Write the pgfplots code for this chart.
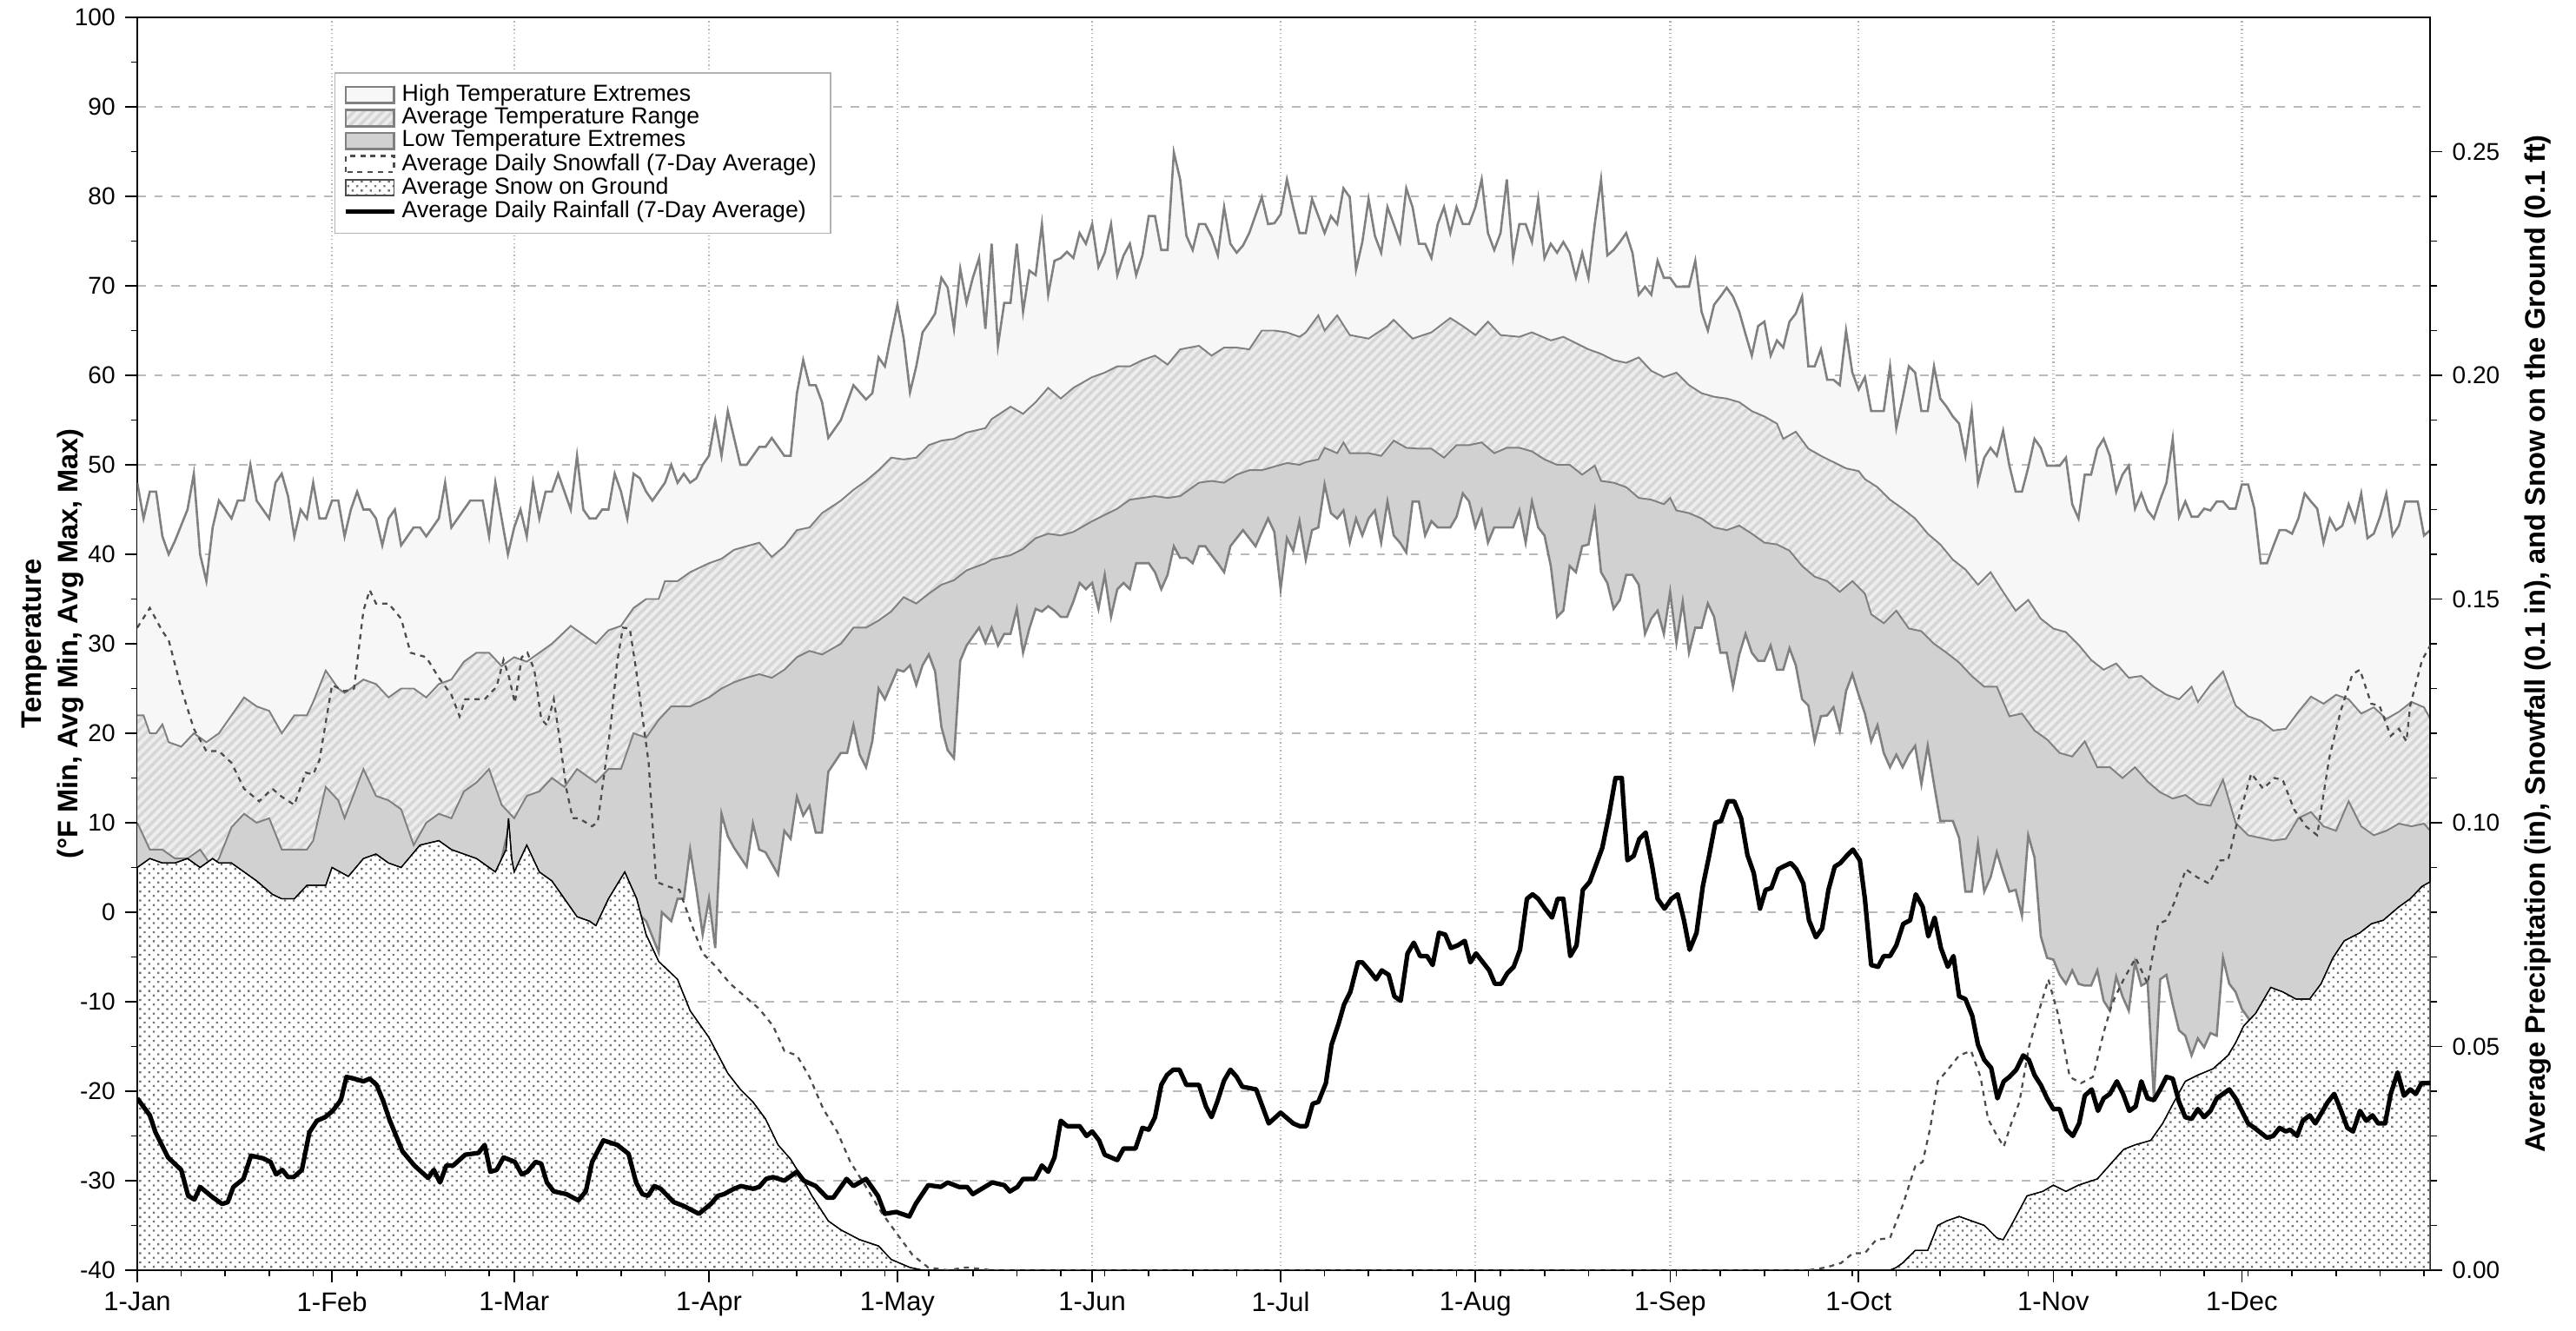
\documentclass[border=0pt]{standalone}
\usepackage{fontspec}
\setmainfont{Liberation Sans}
\usepackage{pgfplots}
\pgfplotsset{compat=1.18}
\usepgfplotslibrary{fillbetween}
\usetikzlibrary{patterns.meta}

\definecolor{lineg}{gray}{0.5}
\definecolor{hifill}{gray}{0.97}
\definecolor{rngfill}{gray}{0.93}
\definecolor{rngline}{gray}{0.84}
\definecolor{lofill}{gray}{0.82}
\definecolor{snowdot}{gray}{0.45}

\tikzset{
  hatch/.style={pattern={Lines[angle=45,distance=2.4pt,line width=1.1pt]},pattern color=rngline},
  snowdots/.style={pattern={Dots[distance=2.26pt,radius=0.5pt,angle=45]},pattern color=snowdot},
}

\begin{document}
\begin{tikzpicture}
% temperatures, left axis
\begin{axis}[name=main, set layers, scale only axis,
  width=28.48cm, height=15.56cm,
  xmin=0, xmax=365, ymin=-40, ymax=100,
  xtick={0,31,60,91,121,152,182,213,244,274,305,335},
  xticklabels={1-Jan,1-Feb,1-Mar,1-Apr,1-May,1-Jun,1-Jul,1-Aug,1-Sep,1-Oct,1-Nov,1-Dec},
  minor xtick={7,14,...,364},
  ytick={-40,-30,...,100}, minor y tick num=1,
  xtick pos=bottom, ytick pos=left, tick align=outside,
  major tick length=0.15cm, minor tick length=0.08cm,
  every tick/.style={black, line width=0.5pt},
  xmajorgrids, ymajorgrids,
  x grid style={densely dotted, gray!60, line width=0.7pt},
  y grid style={dashed, gray!55, line width=0.6pt},
  axis line style={line width=0.6pt},
  tick label style={font=\fontsize{8.6}{10}\selectfont},
  x tick label style={font=\fontsize{9.5}{10}\selectfont},
  /pgf/number format/assume math mode=true,
  ylabel={Temperature\\(°F Min, Avg Min, Avg Max, Max)},
  ylabel style={font=\bfseries\fontsize{10}{12.9}\selectfont, align=center,
    at={(axis description cs:-0.037,0.5)}, anchor=center},
]
\addplot[name path=H, lineg, line width=0.8pt] coordinates {
(0,48)(1,44)(2,47)(3,47)(4,42)(5,40)(6,41.5)(8,45)(9,49)(10,40)(11,37)(12,43)(13,46)(15,44)(16,46)(17,46)(18,50)(19,46)(21,44)(22,48)(23,49)(24,46.5)(25,42)(26,45)(27,44)(28,48)(29,44)(30,44)(31,46)(32,46)(33,42)(34,45)(35,47)(36,45)(37,45)(38,44)(39,41)(40,44)(41,45)(42,41)(43,42)(44,43)(45,43)(46,42)(47,43)(48,44)(49,48)(50,43)(51,44)(52,45)(53,46)(54,46)(55,46)(56,42)(57,48)(58,44)(59,40)(60,43)(61,45)(62,42)(63,48)(64,44)(65,47)(66,47)(67,49)(68,47)(69,45)(70,51)(71,45)(72,44)(73,44)(74,45)(75,45)(76,49)(77,47)(78,44)(79,49)(80,48.5)(81,47)(82,46)(83,47)(84,48)(85,50)(86,48)(87,49)(88,48)(89,48.5)(90,50)(91,51)(92,55)(93,51)(94,56)(95,53)(96,50)(97,50)(99,52)(100,52)(101,53)(103,51)(104,51)(105,58)(106,61.7)(107,58.9)(108,58.9)(109,57)(110,53)(112,55)(114,58.9)(116,57.3)(117,58)(118,62)(119,61)(120,64.5)(121,67.9)(122,64.1)(123,58.1)(124,61)(125,64.8)(126,65.8)(127,66.9)(128,70.9)(129,69.8)(130,65.2)(131,71.9)(132,68.1)(133,70.9)(134,73.1)(135,65.2)(136,74.7)(137,63.3)(138,68.1)(139,68.1)(140,74.7)(141,67.1)(142,71.7)(143,71.2)(144,76.9)(145,69)(146,72.8)(147,73.1)(148,73.8)(149,73.1)(150,75.9)(151,74.7)(152,76.9)(153,72.1)(154,73.7)(155,76.9)(156,71.2)(157,73.4)(158,74.7)(159,71.2)(160,73.4)(161,77.8)(162,77.8)(163,74)(164,74)(165,84.9)(166,81.9)(167,75.6)(168,74)(169,76.9)(170,76.9)(171,75.5)(172,73.4)(173,78.8)(174,74.7)(175,73.7)(176,74.5)(177,75.9)(179,79.9)(180,76.9)(181,77)(182,78)(183,81.9)(184,78.8)(185,75.9)(186,75.9)(187,79.7)(188,77.8)(189,75.9)(190,77.8)(191,76.9)(192,80.9)(193,79.9)(194,71.8)(195,74.9)(196,79.7)(197,75.6)(198,73.7)(199,78.8)(200,76.9)(201,74.9)(202,80.9)(203,78.8)(204,74.7)(205,74.7)(206,73.1)(207,76.9)(208,78.8)(209,75.9)(210,78.8)(211,76.9)(212,76.9)(213,78.8)(214,81.9)(215,75.9)(216,74)(217,75.9)(218,81.9)(219,73.1)(220,76.9)(221,76.9)(222,74.9)(223,79.7)(224,73.1)(225,74.7)(226,73.7)(227,74.9)(228,73.7)(229,70.9)(230,73.7)(231,70.9)(232,76.9)(233,81.9)(234,73.4)(235,74)(236,74.9)(237,75.9)(238,73.7)(239,69)(240,69.9)(241,69)(242,72.8)(243,70.9)(244,70.9)(245,69.9)(247,69.9)(248,72.8)(249,67.1)(250,65)(251,67.9)(252,68.8)(253,69.8)(254,68.8)(255,67.1)(256,64.6)(257,62.2)(258,65.5)(259,66)(260,62.2)(261,63.9)(262,63.1)(263,66)(264,66.9)(265,68.8)(266,61)(267,61)(268,62.9)(269,59.5)(270,59.5)(271,58.9)(272,65)(273,60.3)(274,58.4)(275,59.8)(276,56)(278,56)(279,61)(280,54.1)(281,57.4)(282,61)(283,60.3)(284,56)(285,56)(286,61)(287,57.4)(288,56.5)(289,55.4)(290,54.6)(291,51)(292,56)(293,48)(294,50.8)(295,51.9)(296,51)(297,53.8)(298,49.9)(299,47)(300,47)(301,49.7)(302,52.9)(303,51.9)(304,49.9)(305,49.9)(306,49.9)(307,50.8)(308,45.6)(309,44)(310,48.9)(311,48.9)(312,51.8)(313,52.9)(314,51)(315,47)(316,48.9)(317,49.9)(318,45.1)(319,46.8)(320,44.9)(321,44)(322,46.1)(323,48)(324,52.9)(325,44.2)(326,45.9)(327,44.2)(328,44.2)(329,45.1)(330,44.9)(331,45.9)(332,45.9)(333,45.1)(334,45.1)(335,47.8)(336,47.8)(337,45.1)(338,39)(339,39)(340,40.9)(341,42.7)(342,42.7)(343,42.3)(344,44)(345,46.8)(346,45.9)(347,45.1)(348,41.3)(349,44)(350,42.7)(351,43.2)(352,45.6)(353,43.7)(354,46.8)(355,41.8)(356,42.3)(357,44.2)(358,46.8)(359,42.1)(360,43.2)(361,45.9)(362,45.9)(363,45.9)(364,42.1)(365,42.7)};
\addplot[name path=AX, lineg, line width=0.6pt] coordinates {
(0,22)(1,22)(2,20)(3,20)(4,21)(5,19)(7,18.5)(9,20)(11,19)(13,20)(15,22)(17,24)(19,23)(21,22.5)(23,20)(25,22)(27,22)(28,23.5)(30,27)(32,25)(33,24.5)(36,26)(38,25.5)(40,24)(42,25)(44,25)(46,24)(48,25.5)(50,26)(52,28)(54,29)(56,29)(58,27.5)(60,28.5)(62,28)(64,29)(66,30)(69,32)(71,31)(73,30)(75,31.5)(77,32)(79,34)(81,35)(83,35)(84,37)(86,37)(88,38)(91,39)(93,39.5)(95,40.5)(97,40.9)(99,41.3)(101,39.7)(103,40.9)(105,42.7)(107,43)(109,44.6)(112,46)(114,47.2)(116,48.2)(118,49.4)(120,50.8)(122,50.6)(124,50.8)(126,52.2)(128,52.7)(130,52.9)(132,53.6)(135,54.1)(136,55.1)(139,56.5)(141,55.7)(143,57)(145,58.6)(147,57.4)(149,58.6)(152,59.8)(154,60.3)(156,61)(158,61)(160,61.7)(162,62.2)(164,61.2)(166,62.9)(169,63.3)(171,62.2)(173,63.1)(175,63.1)(177,62.9)(179,65)(181,65)(183,64.8)(185,64.3)(186,64.8)(188,66.7)(189,65)(191,66.7)(193,64.5)(196,64.1)(199,65.5)(200,66.2)(203,64.1)(206,64.8)(209,66.4)(211,65.5)(213,64.5)(215,66)(217,64.5)(220,64.3)(222,64.8)(225,63.9)(227,64.3)(229,63.6)(231,62.9)(233,62.4)(235,61.7)(237,61.4)(239,62)(241,60.5)(243,59.8)(245,60.3)(247,58.9)(249,58)(251,57.6)(253,57.4)(255,57)(257,56)(259,55.4)(261,54.6)(262,52.9)(264,53.7)(266,51.8)(268,51)(270,50.3)(272,49.6)(274,49.3)(275,48.4)(277,47.5)(279,46.1)(281,45.1)(283,44)(285,42.3)(287,41.1)(289,39.4)(291,38.3)(293,36.6)(295,38)(297,35.8)(299,33.7)(301,34.9)(303,32.8)(305,31.7)(307,31.3)(309,29.9)(311,28.2)(313,27.1)(315,27.8)(317,26.2)(319,26.4)(321,25.2)(323,24.3)(325,23.8)(327,25.2)(328,23.5)(330,25.4)(332,26.9)(334,23.1)(336,21.9)(338,21.4)(340,20.3)(342,20.5)(344,22.4)(346,24.1)(348,23.3)(350,24.3)(352,23.8)(354,22.2)(356,22.9)(358,21.6)(360,22.4)(362,23.5)(364,22.9)(365,21.6)};
\addplot[name path=AN, lineg, line width=0.6pt] coordinates {
(0,10)(1,8.5)(2,7)(4,7)(6,6)(8,6)(10,7)(12,5)(13,6)(15,9.5)(17,11)(19,10)(21,10.5)(23,7)(25,7)(27,7)(28,8)(30,14)(32,12.5)(33,10.5)(36,16)(38,13)(40,12.5)(42,11.5)(44,7.5)(46,10)(48,11)(50,10.5)(52,13.5)(54,14.5)(56,16)(58,12)(60,10.5)(62,13)(64,13.5)(66,15)(68,14)(70,16)(71,15.5)(73,14.5)(75,16)(77,16)(79,20)(81,19.5)(83,21.5)(85,23)(88,23)(91,24)(93,25)(95,25.7)(97,26.2)(99,26.6)(101,26.2)(103,27.1)(105,28.5)(107,29.2)(109,28.8)(112,30)(114,31.8)(116,31.8)(118,32.6)(120,33.6)(122,35.2)(124,34.5)(126,35.6)(128,36.6)(130,37.1)(132,38.2)(135,39)(136,39.4)(139,39.9)(141,40.6)(143,41.8)(145,42.3)(147,42.1)(149,42.5)(152,43.7)(154,44.4)(156,45.1)(158,46.1)(160,46.3)(162,46.5)(164,46.3)(166,46.5)(169,48)(171,48.2)(173,48)(175,48.9)(177,49.4)(179,49.4)(181,49.8)(183,50.2)(185,50)(186,50.3)(188,50.6)(189,51.9)(191,51.3)(192,52.5)(193,51.3)(196,51.3)(198,51)(200,52.7)(202,51.9)(204,51.8)(206,51.8)(208,50.8)(210,52.2)(212,52.2)(214,52.5)(216,51.3)(218,51.9)(220,51.9)(222,51.5)(224,50.6)(226,50)(228,50)(230,48.9)(232,49.9)(233,48.2)(235,48)(237,47.5)(239,46.3)(241,46.1)(243,45.6)(244,46.3)(245,44.9)(247,44.6)(249,44)(251,43)(253,42.7)(255,43.2)(257,42.3)(259,41.3)(261,41.1)(263,40.4)(265,38.7)(267,37.5)(269,37)(271,35.8)(273,37)(275,35.6)(276,33.3)(278,32.3)(280,33.7)(282,31.7)(284,31.4)(286,30)(288,29)(290,27.9)(292,26.4)(294,25.2)(296,25.2)(298,21.9)(300,22.2)(302,20.3)(304,19.3)(306,17.8)(308,17.4)(310,19.1)(312,16.2)(314,16.2)(316,15)(318,16.2)(320,14.6)(322,13.4)(324,12.7)(326,13.1)(328,12.1)(330,11.9)(332,14.8)(334,10)(336,8.6)(338,8.3)(340,8)(342,8.2)(344,10.5)(346,11.2)(348,9.6)(350,9.1)(352,12.4)(354,9.6)(356,8.6)(358,9.1)(360,9.9)(362,9.6)(364,9.9)(365,9.1)};
\addplot[name path=L, lineg, line width=0.8pt] coordinates {
(0,3.5)(2,4.5)(4,4)(6,4)(8,4.5)(10,3.5)(12,4.5)(15,4)(17,3)(19,2)(21.5,0.5)(23,0)(25,0)(27,1.5)(30,1.5)(31,3.5)(34,2.5)(36,4.5)(38,5)(40,4)(42,3.5)(45,6)(48,6.5)(50,5.5)(54,4.5)(57,3)(59,9)(60,3)(62,6)(64,3)(66,2)(68,0)(70,-2)(72,-2.5)(73,-3)(75,0)(77.6,3)(79.5,0)(81,-1)(83,-4.5)(83.5,0)(85,-1)(86,1.5)(87,1.5)(88,7)(89,2.5)(90,-2.5)(91,1.5)(92,-4)(93,11)(94,8.5)(95,7.2)(97,5.1)(98,9.9)(99,7)(100,6.7)(102,4.2)(103,9.1)(104,8.2)(105,12.9)(106,10.8)(107,11.9)(108,8.9)(109,8.9)(110,15.7)(112,17.8)(113,17.8)(114,20.9)(115,17.6)(116,16.2)(117,19.1)(118,25)(119,23.8)(121,27.1)(122,26.9)(123,27.6)(124,25.4)(125,27.6)(126,28.8)(127,26.9)(128,20.7)(129,18.1)(130,17.2)(131,28.1)(132,29.8)(134,31.8)(135,30.1)(136,31.8)(137,29.8)(138,31.1)(139,31.1)(140,33.9)(141,29)(142,31.7)(143,33.9)(144,33.6)(145,34.2)(146,33.7)(147,33)(148,33)(149,34.7)(150,36.8)(151,36.1)(152,36.8)(153,33.9)(154,37.7)(155,33)(156,36.1)(157,36.8)(158,36.1)(159,39)(161,39)(162,38)(163,36.1)(164,37.7)(165,40.9)(166,39.6)(167,39.6)(168,39)(169,40.9)(170,40.9)(171,39.9)(172,39)(173,38)(174,40.9)(176,42.7)(178,40.9)(180,44)(181,42.5)(182,36.1)(183,41.8)(184,40.4)(185,43.7)(186,39.4)(187,42.7)(188,43)(189,47.8)(190,44.6)(191,44)(192,44.9)(193,41.3)(194,44)(195,42.1)(196,44)(197,44.9)(198,41.3)(199,45.9)(200,42.1)(201,41.3)(202,40.2)(203,45.9)(204,45.9)(205,42.1)(206,43.7)(207,43)(209,43)(210,44.2)(211,46.8)(212,45.9)(213,43)(214,44.9)(215,41.3)(216,43)(219,43)(220,44.9)(221,41.3)(222,45.9)(223,43)(224,42.1)(225,38.7)(226,33)(227,33.7)(228,38.7)(229,38)(230,40.9)(231,41.1)(232,44.9)(233,38)(234,36.8)(235,33.9)(236,34.9)(237,37.7)(238,37.7)(239,36.6)(240,31.1)(241,32.8)(242,33.7)(243,31.1)(244,35.8)(245,30.1)(246,34.7)(247,29)(248,31.8)(249,31.8)(250,34.5)(251,33)(252,29)(253,29)(254,25.2)(255,28.8)(256,31.1)(257,29)(258,28.1)(259,28.1)(260,29.8)(261,27.1)(262,27.1)(263,29.5)(264,27.6)(265,23.8)(266,23.1)(267,19.1)(268,21.9)(269,22)(270,22.9)(271,20.3)(272,24.7)(273,26.6)(274,24.3)(275,22.2)(276,19.1)(277,20.9)(278,17.8)(279,16.2)(280,17.6)(281,16.2)(282,17.6)(283,18.6)(284,14.3)(285,18.6)(286,14.3)(287,10.2)(288,10.2)(289,10.2)(290,8.3)(291,2.3)(292,2.3)(293,7.7)(294,2.3)(295,3.9)(296,6.7)(297,4.4)(298,2.3)(299,2.5)(300,-0.4)(301,8.6)(302,6.1)(303,-2.7)(304,-5.1)(305,-5.3)(306,-7)(307,-8)(308,-6.5)(309,-8)(310,-8.2)(311,-8.2)(312,-6.5)(313,-9.9)(314,-11)(315,-7.2)(316,-9.4)(317,-11)(318,-5.6)(319,-8.2)(320,-7.8)(321,-20.8)(322,-7.5)(323,-7)(324,-10.3)(325,-13.2)(326,-13.8)(327,-16)(328,-14.1)(329,-15.1)(330,-13.5)(331,-13.8)(332,-5.1)(333,-8)(334,-8.9)(335,-10.8)(336,-11.8)(338,-14)(340,-10.5)(343,-12)(346,-12)(348,-10)(350,-7)(353,-5)(356,-3)(360,-2)(365,1)};
\addplot[fill=hifill, draw=none] fill between[of=H and AX];
\addplot[fill=rngfill, draw=none, postaction={hatch}] fill between[of=AX and AN];
\addplot[fill=lofill, draw=none] fill between[of=AN and L];
\end{axis}

% precipitation and snow, right axis
\begin{axis}[scale only axis,
  width=28.48cm, height=15.56cm,
  xmin=0, xmax=365, ymin=0, ymax=0.28,
  axis x line=none, axis y line*=right,
  ytick={0,0.05,0.1,0.15,0.2,0.25}, minor y tick num=4,
  tick align=outside, major tick length=0.15cm, minor tick length=0.08cm,
  every tick/.style={black, line width=0.5pt},
  axis line style={line width=0.6pt},
  tick label style={font=\fontsize{8.6}{10}\selectfont},
  /pgf/number format/assume math mode=true,
  yticklabel style={/pgf/number format/.cd, fixed, fixed zerofill, precision=2},
  ylabel={Average Precipitation (in), Snowfall (0.1 in), and Snow on the Ground (0.1 ft)},
  ylabel style={font=\bfseries\fontsize{10}{12}\selectfont,
    at={(axis description cs:1.047,0.5)}, anchor=center},
  legend cell align=left,
  legend style={at={(0.086,0.956)}, anchor=north west, draw=black!30, line width=0.4pt,
    font=\fontsize{8.2}{8.2}\selectfont, row sep=-3.1pt, inner xsep=3pt, inner ysep=2pt},
]
\addplot[fill=white, draw=black, line width=0.4pt, postaction={snowdots}, forget plot] coordinates {
(0,0.090)(1,0.091)(2,0.092)(4,0.091)(6,0.091)(8,0.092)(10,0.090)(12,0.092)(13,0.091)(15,0.091)(17,0.089)(19,0.087)(21.5,0.084)(23,0.083)(25,0.083)(27,0.086)(30,0.086)(31,0.090)(33.6,0.088)(36,0.092)(38,0.093)(40,0.091)(42,0.090)(45,0.095)(48,0.096)(50,0.094)(54,0.092)(57,0.089)(58.7,0.094)(59.1,0.101)(59.6,0.092)(60,0.089)(62,0.095)(64,0.089)(66,0.087)(68,0.083)(70,0.079)(72,0.078)(73,0.077)(75,0.083)(77.6,0.089)(79.5,0.083)(81,0.075)(83,0.069)(86,0.065)(88,0.058)(91,0.052)(94,0.044)(96,0.0404)(98,0.0376)(100,0.0338)(102,0.028)(104,0.0248)(105.5,0.0214)(107.4,0.0166)(110,0.011)(112,0.009)(115,0.0068)(118,0.0054)(120,0.0024)(123,0.0006)(125,0)(279,0)(280,0.0006)(281,0.0016)(283,0.0044)(285,0.0044)(286.6,0.010)(288,0.011)(290,0.012)(292,0.011)(294,0.010)(296,0.0072)(297,0.0068)(298.3,0.010)(300.8,0.0166)(303.3,0.0176)(305,0.019)(307,0.0176)(309,0.019)(312,0.0204)(314.4,0.0242)(316.2,0.027)(318,0.028)(320.5,0.029)(322.4,0.0328)(324.2,0.0376)(326,0.0422)(328,0.0436)(330.4,0.045)(332.8,0.048)(334,0.0508)(335.3,0.0546)(337.2,0.0574)(339.6,0.0632)(341.5,0.0622)(343.6,0.0606)(345.8,0.0606)(347.6,0.064)(349.5,0.0698)(351.3,0.0736)(353.8,0.0754)(355.6,0.0774)(357.5,0.0782)(360,0.0812)(361.8,0.083)(363.7,0.0858)(365,0.0868)} \closedcycle;
\addplot[draw=black!70, line width=0.7pt, dash pattern=on 1.8pt off 1.8pt, forget plot] coordinates {
(0,0.1436)(2,0.148)(4,0.1428)(5,0.1408)(7,0.130)(9,0.121)(11,0.116)(13,0.116)(15,0.1134)(17,0.1076)(19.4,0.1048)(21.5,0.1076)(23,0.1058)(25,0.104)(26.8,0.1112)(28,0.1108)(29,0.114)(31,0.1308)(33,0.1294)(34.5,0.130)(36,0.1474)(37,0.152)(38,0.149)(40,0.149)(42,0.1456)(43.5,0.138)(46,0.137)(48,0.1324)(50,0.1286)(51.3,0.1238)(52.2,0.1276)(55.3,0.1276)(57.2,0.1304)(58.3,0.1364)(59.2,0.1324)(60.1,0.1268)(61.2,0.137)(62.1,0.138)(63.2,0.1342)(64.3,0.1232)(65.2,0.1218)(66.3,0.1276)(67.2,0.119)(68.3,0.1076)(69.3,0.101)(70.3,0.101)(72.4,0.0992)(73.3,0.1002)(75.3,0.121)(76.4,0.136)(77.3,0.1436)(78.4,0.1434)(79.4,0.1342)(81.4,0.1134)(82.6,0.0868)(84.4,0.0858)(86.3,0.085)(88.2,0.0774)(90,0.0708)(92,0.068)(94.4,0.064)(99,0.0584)(101.2,0.0546)(103,0.049)(105,0.048)(107,0.0432)(109.2,0.036)(111.4,0.031)(113.5,0.0242)(116,0.0186)(118.5,0.0128)(121,0.008)(123.4,0.0034)(125.9,0.0006)(129,0)(132,0.0006)(136,0)(266,0)(268.8,0.0006)(271.2,0.0016)(273.1,0.0038)(275,0.0038)(276.8,0.0068)(279,0.0072)(281.1,0.0148)(283,0.0232)(284.2,0.0242)(285.4,0.0318)(286.6,0.0422)(288.2,0.0448)(290,0.048)(291.9,0.049)(293.4,0.0432)(294.6,0.0338)(295.9,0.0304)(297.1,0.0276)(298.3,0.0328)(299.6,0.0376)(301.1,0.0498)(302.6,0.0574)(304.2,0.065)(305.7,0.0574)(307.6,0.0432)(309.4,0.0418)(311.3,0.0432)(313.1,0.0536)(314.4,0.0598)(316.2,0.065)(318.1,0.0698)(320,0.064)(321.7,0.0774)(323,0.0782)(324.2,0.082)(326.1,0.0896)(327.9,0.0878)(329.8,0.0864)(331.6,0.0916)(332.8,0.0916)(334.1,0.0992)(336.5,0.111)(338.4,0.1076)(340.2,0.110)(341.5,0.1096)(343.3,0.103)(345.2,0.0992)(347,0.0972)(348.9,0.1144)(350.7,0.1248)(352.6,0.1332)(353.8,0.1342)(355.6,0.1266)(356.9,0.1262)(358.7,0.1194)(360,0.121)(361.2,0.1182)(361.8,0.1262)(363.7,0.1364)(365,0.1396)};
\addplot[black, line width=1.6pt, line join=round, forget plot] coordinates {
(0,0.0384)(2,0.0346)(2.9,0.0308)(4.9,0.0252)(7,0.0224)(8.1,0.0166)(9.1,0.0158)(10,0.0186)(11.9,0.0164)(13.5,0.0148)(14.4,0.0152)(15.3,0.0186)(16.9,0.0204)(18.1,0.0256)(20,0.025)(21.2,0.0242)(22.1,0.0214)(23.1,0.0224)(24,0.0208)(24.9,0.0208)(26.2,0.0224)(27.4,0.0308)(28.6,0.0334)(29.9,0.0342)(31.1,0.0356)(32.4,0.038)(33.3,0.0432)(34.5,0.0428)(36,0.0422)(37,0.0428)(38.1,0.0414)(39.2,0.0376)(40.1,0.0338)(42.2,0.0266)(44.1,0.0234)(46.3,0.0206)(47.2,0.0224)(48.2,0.0196)(49.2,0.0234)(50.3,0.0234)(52.2,0.0258)(54.3,0.0262)(55.3,0.028)(56.2,0.022)(57.2,0.0224)(58.3,0.0252)(60.1,0.0242)(61.2,0.0214)(62.1,0.022)(63.4,0.0242)(64.3,0.0238)(65.2,0.0196)(66.3,0.0176)(68.3,0.017)(70.2,0.0156)(71.4,0.0176)(72.4,0.0242)(74.2,0.029)(76.4,0.028)(78.2,0.026)(79.4,0.0196)(80.4,0.017)(81.3,0.0166)(82.3,0.0188)(83.3,0.0182)(85.4,0.0152)(86.9,0.0144)(89.4,0.0126)(91.3,0.0148)(92.4,0.0166)(93.4,0.017)(95,0.0182)(96.1,0.0188)(98,0.0182)(99,0.0186)(100.1,0.0204)(101.2,0.0208)(103,0.02)(105,0.022)(106.1,0.02)(108,0.0188)(109.8,0.0162)(110.8,0.0162)(112.9,0.0204)(114,0.0188)(116,0.0204)(117.9,0.0166)(119,0.0126)(120.8,0.013)(122.9,0.012)(123.9,0.0148)(125.9,0.019)(127.9,0.0186)(129,0.0196)(130.8,0.0186)(132.1,0.0186)(133,0.017)(134.9,0.0186)(136.1,0.0196)(138,0.019)(138.9,0.0176)(140.1,0.0186)(141,0.0204)(142.9,0.0204)(144,0.0234)(145,0.022)(146,0.0252)(147,0.0334)(148,0.0322)(150,0.0322)(151.1,0.03)(152,0.031)(153.1,0.029)(154,0.0258)(156,0.0246)(157,0.0272)(158.9,0.0272)(160,0.0318)(161,0.0314)(162,0.0342)(163,0.0414)(163.9,0.0436)(164.9,0.0448)(165.9,0.0448)(167,0.0414)(169,0.0414)(170.1,0.0366)(171,0.0342)(171.9,0.0376)(173,0.0424)(174,0.0448)(175,0.0432)(175.9,0.041)(178.1,0.0404)(180.1,0.0328)(182,0.0352)(184,0.0328)(185,0.0322)(186.1,0.0322)(187.1,0.0372)(188,0.0376)(189.2,0.0418)(190.1,0.0504)(191.2,0.055)(192.1,0.0594)(193.1,0.0622)(194.3,0.0688)(195,0.0688)(196.1,0.067)(197.2,0.065)(198.1,0.067)(199.2,0.066)(200.1,0.0612)(201.1,0.0602)(202.2,0.0708)(203.2,0.0732)(204.2,0.0702)(205.3,0.0702)(206.2,0.0682)(207.2,0.0754)(208.2,0.075)(209.1,0.072)(210.2,0.0726)(211.3,0.0736)(212.2,0.0688)(213.1,0.0708)(214.2,0.0688)(215.2,0.067)(216.1,0.064)(217.1,0.064)(218.1,0.0664)(219.1,0.0678)(220.1,0.0716)(221.2,0.083)(222.1,0.084)(223,0.083)(224.1,0.0808)(225.2,0.0788)(226.1,0.083)(227,0.083)(228.1,0.0702)(229.1,0.0726)(230.1,0.085)(231.2,0.0868)(232.1,0.0902)(233.2,0.0944)(234.3,0.102)(235.3,0.11)(236.3,0.11)(237.2,0.0916)(238.2,0.0926)(239.1,0.0964)(240.1,0.0978)(241.1,0.0906)(242,0.083)(243.1,0.0808)(244.2,0.083)(245.2,0.084)(246.2,0.0782)(247.1,0.0716)(248.2,0.0754)(249.2,0.0858)(250.2,0.0926)(251.2,0.1)(252.1,0.1004)(253.2,0.1048)(254.2,0.1048)(255.3,0.101)(256.3,0.0928)(257.3,0.0888)(258.3,0.0808)(259.2,0.085)(260.1,0.0854)(261.2,0.0896)(262,0.0902)(263.2,0.091)(264.1,0.0896)(265.2,0.0864)(266.1,0.0782)(267.2,0.0744)(268.2,0.0764)(269.2,0.085)(270.2,0.0902)(271.1,0.091)(272.1,0.0926)(273.1,0.094)(274.2,0.0916)(275,0.083)(276,0.0682)(277.1,0.0678)(278,0.0702)(279,0.0702)(280,0.0726)(281.1,0.0774)(282.2,0.0782)(283.1,0.084)(284.2,0.0812)(285.1,0.0746)(286.1,0.0788)(287.1,0.072)(288.2,0.0678)(289.1,0.0702)(290,0.0612)(291,0.0606)(292.1,0.0568)(293,0.0504)(294,0.047)(295.1,0.0452)(296.1,0.0384)(297.1,0.0422)(298,0.0432)(299.1,0.0448)(300.2,0.048)(301.1,0.047)(302,0.0436)(303,0.0414)(304,0.0384)(305,0.036)(306,0.036)(307.1,0.0314)(308.1,0.03)(309.1,0.0328)(310,0.039)(311.1,0.0404)(312.1,0.0356)(313,0.0384)(314,0.0394)(315.1,0.0422)(316.1,0.0394)(317.1,0.0356)(318.1,0.0366)(319,0.0422)(320,0.0384)(321,0.038)(322,0.0404)(323,0.0432)(324,0.0428)(325,0.0376)(326,0.0342)(327,0.0338)(328,0.036)(329,0.0342)(330,0.0356)(331,0.0384)(333,0.0404)(334,0.0384)(335,0.0356)(336,0.0328)(337,0.0318)(339,0.0296)(340,0.03)(341,0.0318)(342,0.031)(342.7,0.0314)(343.8,0.03)(344.7,0.0334)(345.8,0.0346)(346.7,0.0328)(347.7,0.0352)(348.7,0.0376)(349.7,0.0394)(350.7,0.036)(351.8,0.0318)(352.7,0.031)(353.8,0.0356)(354.8,0.0334)(355.8,0.0346)(356.7,0.0328)(357.8,0.0328)(358.7,0.0394)(359.8,0.0442)(360.8,0.039)(361.8,0.0404)(362.7,0.0394)(363.6,0.0418)(365,0.0418)};
\addlegendimage{area legend, draw=lineg, line width=0.8pt, fill=hifill}
\addlegendentry{High Temperature Extremes}
\addlegendimage{area legend, draw=lineg, line width=0.8pt, fill=rngfill, postaction={hatch}}
\addlegendentry{Average Temperature Range}
\addlegendimage{area legend, draw=lineg, line width=0.8pt, fill=lofill}
\addlegendentry{Low Temperature Extremes}
\addlegendimage{area legend, draw=black!70, line width=0.7pt, dash pattern=on 1.8pt off 1.8pt, fill=white}
\addlegendentry{Average Daily Snowfall (7-Day Average)}
\addlegendimage{area legend, draw=black!70, line width=0.5pt, fill=white, postaction={snowdots}}
\addlegendentry{Average Snow on Ground}
\addlegendimage{black, line width=1.6pt}
\addlegendentry{Average Daily Rainfall (7-Day Average)}
\end{axis}
\pgfresetboundingbox
\path ([xshift=-1.705cm,yshift=-0.745cm]main.south west) rectangle ([xshift=1.81cm,yshift=0.216cm]main.north east);
\end{tikzpicture}
\end{document}
